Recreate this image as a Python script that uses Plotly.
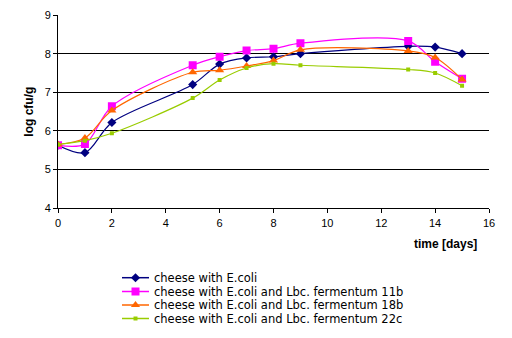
import plotly.graph_objects as go

days = [0, 1, 2, 5, 6, 7, 8, 9, 13, 14, 15]

ecoli = [5.63, 5.44, 6.22, 7.20, 7.73, 7.89, 7.92, 8.00, 8.19, 8.17, 8.00]
ferm_11b = [5.63, 5.66, 6.64, 7.70, 7.92, 8.08, 8.13, 8.27, 8.33, 7.79, 7.35]
ferm_18b = [5.65, 5.82, 6.53, 7.52, 7.57, 7.68, 7.82, 8.10, 8.07, 7.90, 7.33]
ferm_22c = [5.65, 5.75, 5.94, 6.85, 7.32, 7.63, 7.74, 7.70, 7.59, 7.50, 7.17]

names = [
    "cheese with E.coli",
    "cheese with E.coli and Lbc. fermentum 11b",
    "cheese with E.coli and Lbc. fermentum 18b",
    "cheese with E.coli and Lbc. fermentum 22c",
]
series = [ecoli, ferm_11b, ferm_18b, ferm_22c]
colors = ["#000080", "#FF00FF", "#FF6600", "#99CC00"]
symbols = ["diamond", "square", "triangle-up", "square"]
sizes = [7, 8, 8, 4]

FONT = "Liberation Sans, Arial, sans-serif"
LEGEND_FONT = "DejaVu Sans, Liberation Sans, sans-serif"
axis_font = dict(family=FONT, size=11, color="black")

# Canvas geometry (pixels) used to lay out the compact legend panel
W, H = 512, 338
M_L, M_R, M_T, M_B = 58, 23, 15, 8
plot_w = W - M_L - M_R
plot_h = H - M_T - M_B
plot_bottom_px = 208.3                      # pixel row of the y=4 baseline
main_dom0 = (H - M_B - plot_bottom_px) / plot_h
leg_dom1 = 0.25
leg_top_px = H - M_B - leg_dom1 * plot_h

fig = go.Figure()
for name, vals, col, sym, sz in zip(names, series, colors, symbols, sizes):
    fig.add_trace(go.Scatter(
        x=days, y=vals, name=name, mode="lines+markers",
        line=dict(color=col, width=1.2, shape="spline", smoothing=0.9),
        marker=dict(symbol=sym, size=sz, color=col),
        showlegend=False,
    ))

# Legend panel: sample line + marker, then label, one row per series
row_y = [277.7, 291.5, 305.0, 318.5]
sample_x0, sample_x1, label_x = 122, 149, 152
annotations = []
for name, col, sym, sz, ry in zip(names, colors, symbols, sizes, row_y):
    fig.add_trace(go.Scatter(
        x=[sample_x0, sample_x1], y=[ry, ry], mode="lines",
        line=dict(color=col, width=1.5), xaxis="x2", yaxis="y2",
        showlegend=False, hoverinfo="skip",
    ))
    fig.add_trace(go.Scatter(
        x=[(sample_x0 + sample_x1) / 2], y=[ry], mode="markers",
        marker=dict(symbol=sym, size=sz, color=col), xaxis="x2", yaxis="y2",
        showlegend=False, hoverinfo="skip",
    ))
    annotations.append(dict(
        text=name, x=label_x, y=ry, xref="x2", yref="y2",
        xanchor="left", yanchor="middle", showarrow=False,
        font=dict(family=LEGEND_FONT, size=11.5, color="black"),
    ))

annotations.append(dict(
    text="<b>time [days]</b>",
    x=(479 - M_L) / plot_w, y=(H - M_B - 235) / plot_h,
    xref="paper", yref="paper",
    xanchor="right", yanchor="top", showarrow=False,
    font=dict(family=FONT, size=12, color="black"),
))

fig.update_layout(
    width=W, height=H,
    margin=dict(l=M_L, r=M_R, t=M_T, b=M_B, autoexpand=False),
    paper_bgcolor="white", plot_bgcolor="white",
    font=axis_font,
    showlegend=False,
    xaxis=dict(
        range=[0, 16], tickmode="linear", tick0=0, dtick=2,
        showgrid=False, showline=True, linecolor="black", linewidth=1,
        ticks="outside", ticklen=4, tickcolor="black",
        zeroline=False, tickfont=axis_font, anchor="y",
    ),
    yaxis=dict(
        domain=[main_dom0, 1],
        range=[4, 9], tickmode="linear", tick0=4, dtick=1,
        showgrid=True, gridcolor="black", gridwidth=1,
        showline=True, linecolor="black", linewidth=1,
        ticks="outside", ticklen=4, tickcolor="black",
        zeroline=False, tickfont=axis_font,
        title=dict(text="<b>log cfu/g</b>", standoff=8,
                   font=dict(family=FONT, size=12, color="black")),
    ),
    xaxis2=dict(
        domain=[0, 1], range=[M_L, W - M_R], visible=False,
        anchor="y2", fixedrange=True,
    ),
    yaxis2=dict(
        domain=[0, leg_dom1], range=[H - M_B, leg_top_px], visible=False,
        anchor="x2", fixedrange=True,
    ),
    annotations=annotations,
)

fig.write_html("out.html")
